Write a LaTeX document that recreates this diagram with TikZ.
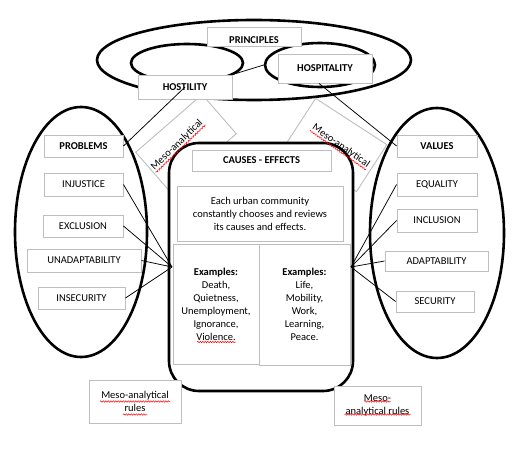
\documentclass[tikz,border=0pt]{standalone}
\usepackage{fontspec}
\setmainfont{Carlito}
\usetikzlibrary{shapes.geometric,calc,decorations.pathmorphing}
\definecolor{boxgray}{RGB}{190,190,190}
\begin{document}
\begin{tikzpicture}[x=1pt,y=-1pt,
  every node/.style={font=\fontsize{10.5}{13}\selectfont},
  thickline/.style={draw=black,line width=2.6pt},
  ell/.style={ellipse,thickline,inner sep=0pt},
  gbox/.style={rectangle,draw=boxgray,line width=0.9pt,fill=white,inner sep=1pt,align=center},
  conn/.style={draw=black,line width=0.75pt},
  lbl/.style={font=\fontsize{10.5}{13}\selectfont\bfseries},
  squig/.style={draw=red,line width=0.5pt,decorate,decoration={snake,amplitude=0.7pt,segment length=2.5pt}},
]
\useasboundingbox (0,0) rectangle (519,449);

% top ellipses
\node[ell,minimum width=314pt,minimum height=80pt] (bigell) at (254,60) {};
\node[ell,minimum width=112pt,minimum height=38pt] (lell) at (187,63) {};
\node[ell,minimum width=110pt,minimum height=44pt] (rell) at (320,65) {};
\draw[conn] (lell.-12) -- (rell.west);

% rotated meso boxes (frames)
\node[gbox,rotate=41,minimum width=88pt,minimum height=52pt] (mesoLbox) at (186,143) {};
\node[gbox,rotate=-33,minimum width=85pt,minimum height=56pt] (mesoRbox) at (336,145) {};

% top labels
\node[gbox,lbl,minimum width=94pt,minimum height=19pt,inner sep=0pt,text height=16pt,text depth=2pt] (princ) at (254,36.5) {PRINCIPLES};
\node[gbox,lbl,minimum width=94pt,minimum height=29pt] (hosp) at (325,68.5) {HOSPITALITY};
\node[gbox,lbl,minimum width=94pt,minimum height=24pt] (host) at (185,87) {HOSTILITY};

% main rounded box
\node[thickline,fill=white,rounded corners=30pt,minimum width=184pt,minimum height=248pt] (main) at (261,267) {};

% meso rotated texts
\node[rotate=44,inner sep=0.5pt] (mesoL) at (177,145) {Meso-analytical};
\node[rotate=-35,inner sep=0.5pt] (mesoR) at (341,146) {Meso-analytical};
\draw[squig] (mesoL.south west) -- (mesoL.south east);
\draw[squig] (mesoR.south west) -- (mesoR.south east);

% inner boxes
\node[gbox,lbl,minimum width=139pt,minimum height=21pt] (cause) at (261.5,160.5) {CAUSES - EFFECTS};
\node[gbox,minimum width=166pt,minimum height=55pt] (each) at (260,213.5) {Each urban community\\constantly chooses and reviews\\its causes and effects.};
\node[gbox,minimum width=86pt,minimum height=120pt] (exL) at (216,304) {\textbf{Examples:}\\Death,\\Quietness,\\Unemployment,\\Ignorance,\\Violence.};
\node[gbox,minimum width=91pt,minimum height=121pt] (exR) at (304.5,304.5) {\textbf{Examples:}\\Life,\\Mobility,\\Work,\\Learning,\\Peace.};
\draw[squig] ($(exL.center)+(-19,38)$) -- ($(exL.center)+(20,38)$);

% side ellipses
\node[ell,minimum width=132pt,minimum height=250pt] (leftell) at (81,232) {};
\node[ell,minimum width=134pt,minimum height=250pt] (rightell) at (437,233) {};

% left boxes
\node[gbox,lbl,minimum width=79pt,minimum height=22pt] (prob) at (83.5,146) {PROBLEMS};
\node[gbox,minimum width=79pt,minimum height=23pt] (inj) at (83.5,184.5) {INJUSTICE};
\node[gbox,minimum width=80pt,minimum height=22pt] (excl) at (83,226) {EXCLUSION};
\node[gbox,minimum width=114pt,minimum height=23pt] (unad) at (84,260.5) {UNADAPTABILITY};
\node[gbox,minimum width=87pt,minimum height=22pt] (insec) at (81.5,298) {INSECURITY};

% right boxes
\node[gbox,lbl,minimum width=80pt,minimum height=22pt] (val) at (437,146) {VALUES};
\node[gbox,minimum width=80pt,minimum height=23pt] (equ) at (437,184.5) {EQUALITY};
\node[gbox,minimum width=80pt,minimum height=23pt] (incl) at (437,220.5) {INCLUSION};
\node[gbox,minimum width=103pt,minimum height=20pt] (adap) at (436.5,261) {ADAPTABILITY};
\node[gbox,minimum width=78pt,minimum height=21pt] (sec) at (435,301.5) {SECURITY};

% bottom boxes
\node[gbox,minimum width=92pt,minimum height=43pt] (mesoBL) at (135,401.5) {Meso-analytical\\rules};
\node[gbox,minimum width=87pt,minimum height=39pt] (mesoBR) at (377.5,405.5) {Meso-\\analytical rules};
\draw[squig] ($(mesoBL.center)+(-35,0)$) -- ($(mesoBL.center)+(35,0)$);
\draw[squig] ($(mesoBL.center)+(-12,13)$) -- ($(mesoBL.center)+(12,13)$);
\draw[squig] ($(mesoBR.center)+(-13,-4)$) -- ($(mesoBR.center)+(13,-4)$);
\draw[squig] ($(mesoBR.center)+(-33,9)$) -- ($(mesoBR.center)+(33,9)$);

% connectors
\coordinate (lconv) at (172,267);
\coordinate (rconv) at (351,267);
\draw[conn] (host.center) -- (prob.east);
\draw[conn] ($(hosp.south)+(-6,0)$) -- (val.west);
\draw[conn] (inj.east) -- (lconv);
\draw[conn] (excl.east) -- (lconv);
\draw[conn] (unad.east) -- (lconv);
\draw[conn] (insec.east) -- (lconv);
\draw[conn] (equ.west) -- (rconv);
\draw[conn] (incl.west) -- (rconv);
\draw[conn] (adap.west) -- (rconv);
\draw[conn] (sec.west) -- (rconv);
\end{tikzpicture}
\end{document}
